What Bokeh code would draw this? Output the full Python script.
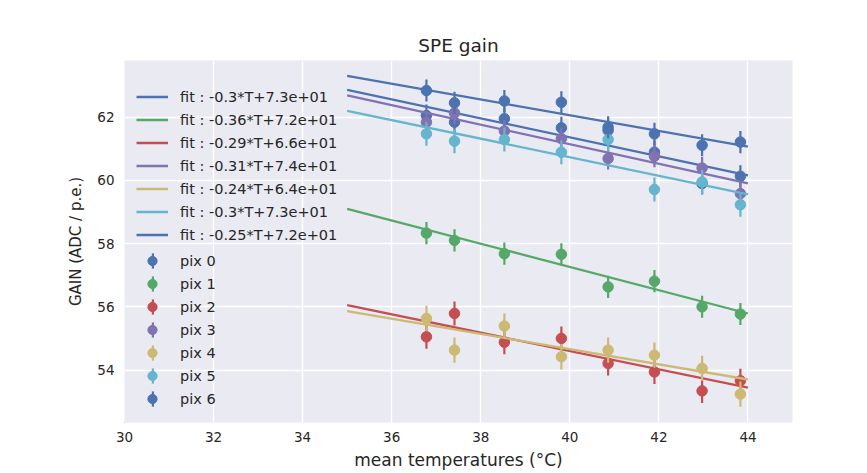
from bokeh.plotting import figure
from bokeh.models import ColumnDataSource, Legend, LegendItem, Range1d, FixedTicker
from bokeh.embed import file_html
from bokeh.resources import INLINE

# ---- data ----
temperatures = [36.78, 37.41, 38.53, 39.81, 40.86, 41.90, 42.97, 43.83]
pix_names = ["pix 0", "pix 1", "pix 2", "pix 3", "pix 4", "pix 5", "pix 6"]
gain_pix0 = [62.05, 61.84, 61.95, 61.66, 61.58, 60.89, 59.90, 60.13]
gain_pix1 = [58.33, 58.10, 57.68, 57.66, 56.63, 56.81, 56.00, 55.77]
gain_pix2 = [55.05, 55.79, 54.88, 55.00, 54.21, 53.94, 53.34, 53.66]
gain_pix3 = [61.84, 62.13, 61.56, 61.32, 60.69, 60.76, 60.39, 59.58]
gain_pix4 = [55.63, 54.63, 55.39, 54.42, 54.63, 54.47, 54.05, 53.24]
gain_pix5 = [61.47, 61.24, 61.29, 60.89, 61.29, 59.71, 59.95, 59.23]
gain_pix6 = [62.84, 62.45, 62.51, 62.47, 61.68, 61.47, 61.11, 61.21]
gain_err = [0.35, 0.35, 0.38, 0.35, 0.40, 0.38, 0.35]
fit_slope = [-0.300, -0.368, -0.290, -0.310, -0.240, -0.293, -0.248]
fit_intercept = [73.36, 71.98, 66.20, 73.54, 64.26, 72.45, 71.98]
fit_labels = ["fit : -0.3*T+7.3e+01", "fit : -0.36*T+7.2e+01", "fit : -0.29*T+6.6e+01",
              "fit : -0.31*T+7.4e+01", "fit : -0.24*T+6.4e+01", "fit : -0.3*T+7.3e+01",
              "fit : -0.25*T+7.2e+01"]
fit_range = [35.0, 44.0]
x_ticks = [30, 32, 34, 36, 38, 40, 42, 44]
y_ticks = [54, 56, 58, 60, 62]

gains = [gain_pix0, gain_pix1, gain_pix2, gain_pix3, gain_pix4, gain_pix5, gain_pix6]
colors = ["#4C72B0", "#55A868", "#C44E52", "#8172B2", "#CCB974", "#64B5CD", "#4C72B0"]

TEXT = "#262626"
FONT = "DejaVu Sans"

p = figure(width=867, height=473, output_backend="svg", toolbar_location=None,
           x_range=Range1d(30, 45), y_range=Range1d(52.34, 63.79),
           min_border_left=124, min_border_right=75, min_border_top=60, min_border_bottom=51,
           title="SPE gain")
p.background_fill_color = "#EAEAF2"
p.border_fill_color = "white"
p.outline_line_color = None

p.title.align = "center"
p.title.text_font = FONT
p.title.text_font_size = "18.5px"
p.title.text_font_style = "normal"
p.title.text_color = TEXT
p.title.standoff = 10

for ax in (p.xaxis[0], p.yaxis[0]):
    ax.axis_line_color = None
    ax.major_tick_line_color = None
    ax.minor_tick_line_color = None
    ax.major_tick_out = 0
    ax.major_tick_in = 0
    ax.major_label_text_font = FONT
    ax.major_label_text_font_size = "13.5px"
    ax.major_label_text_color = TEXT
    ax.axis_label_text_font = FONT
    ax.axis_label_text_font_style = "normal"
    ax.axis_label_text_color = TEXT

p.xaxis.ticker = FixedTicker(ticks=x_ticks)
p.yaxis.ticker = FixedTicker(ticks=y_ticks)
p.xaxis.axis_label = "mean temperatures (°C)"
p.yaxis.axis_label = "GAIN (ADC / p.e.)"
p.xaxis.axis_label_text_font_size = "17px"
p.yaxis.axis_label_text_font_size = "15px"
p.xaxis.major_label_standoff = 9
p.xaxis.axis_label_standoff = 5
p.yaxis.major_label_standoff = 10
p.yaxis.axis_label_standoff = 9

p.xgrid.grid_line_color = "white"
p.ygrid.grid_line_color = "white"
p.xgrid.grid_line_width = 1.4
p.ygrid.grid_line_width = 1.4

fit_items = []
bar_items = []
dot_items = []
for i, g in enumerate(gains):
    c = colors[i]
    e = gain_err[i]
    src = ColumnDataSource(dict(
        x=temperatures, y=g,
        lo=[v - e for v in g], hi=[v + e for v in g]))
    p.segment(x0="x", y0="lo", x1="x", y1="hi", source=src, line_color=c, line_width=2.2)
    sc = p.scatter(x="x", y="y", source=src, size=10.5, fill_color=c, line_color=c)
    fsrc = ColumnDataSource(dict(
        x=fit_range,
        y=[fit_slope[i] * t + fit_intercept[i] for t in fit_range]))
    ln = p.line(x="x", y="y", source=fsrc, line_color=c, line_width=2.3)
    # legend-only renderer for the error-bar stroke (outside the visible range)
    bar = p.vbar(x=[0.0], top=[0.0], bottom=[-1.0], width=0.1, fill_color=c, line_color=None)
    fit_items.append(LegendItem(label=fit_labels[i], renderers=[ln]))
    bar_items.append(LegendItem(label=" ", renderers=[bar]))
    dot_items.append(LegendItem(label=pix_names[i], renderers=[sc]))


def make_legend(items, loc, gw, gh, lh, sp):
    lg = Legend(items=items, location=loc)
    lg.background_fill_alpha = 0
    lg.border_line_alpha = 0
    lg.padding = 0
    lg.margin = 0
    lg.spacing = sp
    lg.label_height = lh
    lg.glyph_height = gh
    lg.glyph_width = gw
    lg.label_standoff = 12
    lg.label_text_font = FONT
    lg.label_text_font_size = "14.5px"
    lg.label_text_color = TEXT
    return lg


p.add_layout(make_legend(fit_items, (12, 176), 32, 23, 23, 0), "center")
p.add_layout(make_legend(bar_items, (27, 14), 3, 19, 19, 4), "center")
p.add_layout(make_legend(dot_items, (12, 12), 32, 23, 23, 0), "center")

open("out.html", "w").write(file_html(p, INLINE))
